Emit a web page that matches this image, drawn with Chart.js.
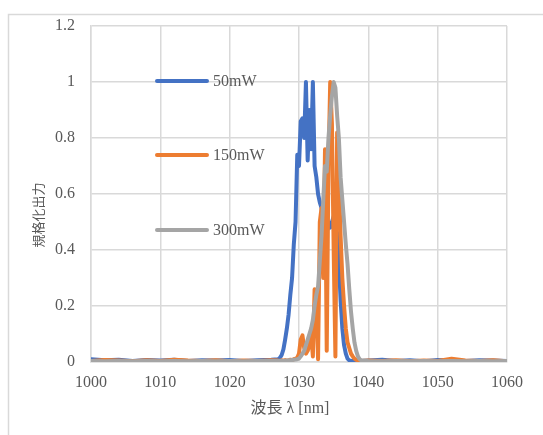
<!DOCTYPE html>
<html>
<head>
<meta charset="utf-8">
<script src="https://cdn.jsdelivr.net/npm/chart.js@4"></script>
<style>
html,body{margin:0;padding:0;background:#fff;}
#wrap{width:543px;height:435px;position:relative;}
</style>
</head>
<body>
<div id="wrap"><canvas id="c" width="543" height="435"></canvas></div>
<script>
// ---- data ----
const wavelength = [1000,1002,1004,1006,1008,1010,1012,1014,1016,1018,1020,1022,1024,1026,
1027,1027.25,1027.5,1027.75,1028,1028.25,1028.5,1028.75,1029,1029.25,1029.5,1029.75,
1030,1030.25,1030.5,1030.75,1031,1031.25,1031.5,1031.75,1032,1032.25,1032.5,1032.75,
1033,1033.25,1033.5,1033.75,1034,1034.25,1034.5,1034.75,1035,1035.25,1035.5,1035.75,
1036,1036.25,1036.5,1036.75,1037,1037.25,1037.5,1037.75,1038,1038.25,1038.5,1038.75,1039,
1040,1042,1044,1046,1048,1050,1052,1054,1056,1058,1060];

const p50mW = [0.010,0.006,0.008,0.004,0.007,0.005,0.008,0.004,0.006,0.005,0.007,0.004,0.006,0.008,
0.010,0.015,0.025,0.045,0.080,0.120,0.170,0.240,0.300,0.420,0.500,0.740,
0.700,0.860,0.870,0.800,1.000,0.720,0.900,0.760,1.000,0.700,0.660,0.600,
0.570,0.550,0.500,0.440,0.460,0.500,0.480,0.500,0.520,0.480,0.460,0.360,
0.220,0.120,0.060,0.030,0.012,0.006,0.004,0.005,0.003,0.004,0.003,0.005,0.004,
0.005,0.008,0.004,0.006,0.003,0.007,0.005,0.004,0.006,0.005,0.004];

const p150mW = [0.004,0.007,0.005,0.003,0.006,0.004,0.008,0.005,0.004,0.006,0.003,0.005,0.004,0.006,
0.005,0.004,0.006,0.005,0.007,0.005,0.006,0.008,0.007,0.010,0.012,0.015,
0.030,0.080,0.095,0.050,0.030,0.040,0.060,0.100,0.020,0.260,0.200,0.010,
0.500,0.550,0.300,0.760,0.040,0.700,1.000,0.850,0.400,0.020,0.820,0.650,
0.450,0.300,0.200,0.120,0.070,0.050,0.030,0.020,0.012,0.008,0.006,0.005,0.004,
0.005,0.004,0.006,0.003,0.005,0.004,0.012,0.005,0.004,0.006,0.003];

const p300mW = [0.004,0.003,0.004,0.003,0.004,0.003,0.004,0.003,0.004,0.003,0.004,0.003,0.004,0.004,
0.004,0.004,0.005,0.004,0.005,0.005,0.006,0.006,0.007,0.008,0.009,0.010,
0.012,0.020,0.030,0.040,0.060,0.080,0.100,0.120,0.150,0.200,0.240,0.270,
0.360,0.450,0.580,0.700,0.680,0.800,0.880,0.950,1.000,0.980,0.880,0.800,
0.660,0.580,0.500,0.420,0.350,0.260,0.180,0.120,0.070,0.040,0.020,0.010,0.006,
0.004,0.003,0.004,0.003,0.004,0.003,0.004,0.003,0.004,0.003,0.004];

const seriesNames = ['50mW','150mW','300mW'];
const xTickLabels = ['1000','1010','1020','1030','1040','1050','1060'];
const yTickLabels = ['0','0.2','0.4','0.6','0.8','1','1.2'];
const xTitle = '波長 λ [nm]';
const yTitle = '規格化出力';

// ---- styles ----
const colors = ['#4472C4','#ED7D31','#A5A5A5'];
const textColor = '#595959';
const gridColor = '#d9d9d9';
const serif = "'Liberation Serif', 'Noto Sans CJK JP', serif";

function pts(vals){ return wavelength.map((x,i)=>({x:x, y:vals[i]})); }
const seriesVals = [p50mW, p150mW, p300mW];

const datasets = seriesVals.map((v,i)=>({
  label: seriesNames[i],
  data: pts(v),
  borderColor: colors[i],
  backgroundColor: colors[i],
  borderWidth: 4,
  pointRadius: 0,
  tension: 0,
  fill: false,
  borderJoinStyle: 'round',
  borderCapStyle: 'round',
  order: 3 - i
}));

const decor = {
  id: 'decor',
  beforeDraw(chart){
    const ctx = chart.ctx;
    ctx.save();
    ctx.fillStyle = '#fff';
    ctx.fillRect(0,0,chart.width,chart.height);
    ctx.strokeStyle = gridColor;
    ctx.lineWidth = 1.5;
    ctx.strokeRect(8.5, 14.5, 700, 700);
    ctx.restore();
  },
  afterDraw(chart){
    const ctx = chart.ctx;
    ctx.save();
    // legend
    const ys = [81, 155, 230];
    ctx.font = '16px ' + serif;
    ctx.textBaseline = 'middle';
    ctx.textAlign = 'left';
    seriesNames.forEach((n,i)=>{
      ctx.strokeStyle = colors[i];
      ctx.lineWidth = 4;
      ctx.lineCap = 'round';
      ctx.beginPath();
      ctx.moveTo(157, ys[i]);
      ctx.lineTo(207, ys[i]);
      ctx.stroke();
      ctx.fillStyle = textColor;
      ctx.fillText(n, 213, ys[i] + 1);
    });
    // axis titles
    ctx.fillStyle = textColor;
    ctx.font = '16px ' + serif;
    ctx.textAlign = 'center';
    ctx.fillText(xTitle, 290, 409);
    ctx.translate(38, 215);
    ctx.rotate(-Math.PI/2);
    ctx.font = "13px 'Noto Sans CJK JP', sans-serif";
    ctx.fillText(yTitle, 0, 0);
    ctx.restore();
  }
};

new Chart(document.getElementById('c'), {
  type: 'line',
  data: { datasets },
  plugins: [decor],
  options: {
    responsive: false,
    animation: false,
    layout: { padding: { left: 0, top: 26, right: 36, bottom: 0 } },
    plugins: { legend: { display: false }, tooltip: { enabled: false } },
    scales: {
      x: {
        type: 'linear',
        min: 1000, max: 1060,
        afterFit(s){ s.height = 73; },
        ticks: {
          stepSize: 10,
          color: textColor,
          font: { family: serif, size: 16 },
          padding: 11,
          maxRotation: 0,
          callback: (v)=>{ const i = Math.round((v-1000)/10); return xTickLabels[i] ?? ''; }
        },
        grid: { color: gridColor, lineWidth: 1.5, drawTicks: false },
        border: { display: true, color: gridColor, width: 1.5 }
      },
      y: {
        type: 'linear',
        min: 0, max: 1.2,
        afterFit(s){ s.width = 91; },
        ticks: {
          stepSize: 0.2,
          color: textColor,
          font: { family: serif, size: 16 },
          padding: 16,
          callback: (v)=>{ const i = Math.round(v/0.2); return yTickLabels[i] ?? ''; }
        },
        grid: { color: gridColor, lineWidth: 1.5, drawTicks: false },
        border: { display: true, color: gridColor, width: 1.5 }
      }
    }
  }
});
</script>
</body>
</html>
